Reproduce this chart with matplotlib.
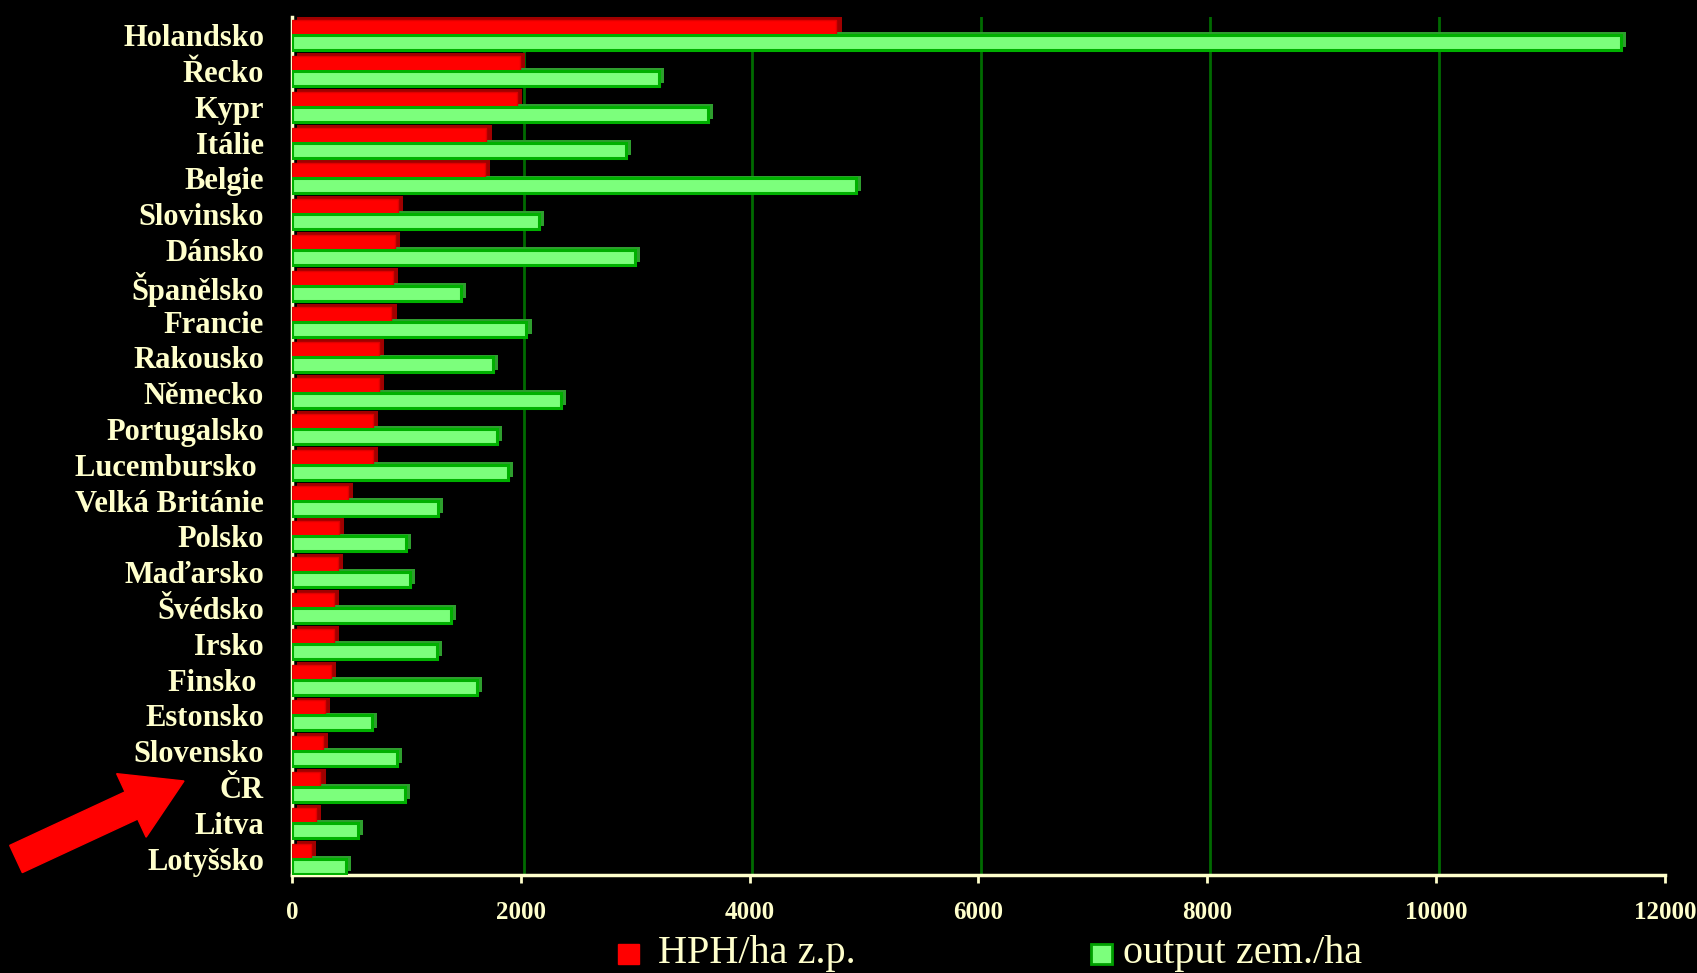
import matplotlib
matplotlib.use("Agg")
import matplotlib.pyplot as plt
import matplotlib.patches as mpatches
from matplotlib.transforms import IdentityTransform
import numpy as np

countries = ["Holandsko", "Řecko", "Kypr", "Itálie", "Belgie", "Slovinsko", "Dánsko",
             "Španělsko", "Francie", "Rakousko", "Německo", "Portugalsko", "Lucembursko ",
             "Velká Británie", "Polsko", "Maďarsko", "Švédsko", "Irsko", "Finsko ",
             "Estonsko", "Slovensko", "ČR", "Litva", "Lotyšsko"]
hph_ha = [4760, 1990, 1970, 1700, 1690, 930, 900, 880, 870, 760, 760, 710, 710,
          490, 410, 400, 370, 370, 340, 290, 270, 250, 210, 170]
output_ha = [11620, 3210, 3640, 2920, 4930, 2160, 3000, 1480, 2050, 1760, 2350, 1790, 1890,
             1280, 1000, 1030, 1390, 1270, 1620, 700, 920, 990, 580, 470]
xticks = [0, 2000, 4000, 6000, 8000, 10000, 12000]
series_names = ["HPH/ha z.p.", "output zem./ha"]

CREAM = "#FFFFCC"
SERIF = ["Liberation Serif", "DejaVu Serif"]

fig = plt.figure(figsize=(16.97, 9.73), dpi=100, facecolor="black")
ax = fig.add_axes([0.172, 0.101, 0.809, 0.882])
ax.set_facecolor("black")

y = np.arange(len(countries))
h = 0.42
dx = 45
dy = 0.08
# 3D depth shadows
ax.barh(y - h / 2 - dy, hph_ha, height=h, left=dx, color="#A00000", zorder=2)
ax.barh(y + h / 2 - dy, output_ha, height=h, left=dx, color="#2E9E2E", zorder=2)
# front faces
ax.barh(y - h / 2, hph_ha, height=h, color="#FF0000", edgecolor="#E00000", linewidth=1, zorder=3)
ax.barh(y + h / 2, output_ha, height=h, color="#7CFF7C", edgecolor="#00B000", linewidth=2.2, zorder=3)

ax.set_xlim(0, 12000)
ax.set_ylim(len(countries) - 0.55, -0.52)
ax.set_yticks(y)
ax.set_yticklabels(countries, family=SERIF, fontsize=22, fontweight="bold", color=CREAM)
ax.tick_params(axis="y", length=0, pad=20)
ax.set_xticks(xticks)
ax.set_xticklabels([str(v) for v in xticks], family=SERIF, fontsize=18,
                   fontweight="bold", color=CREAM)
ax.tick_params(axis="x", colors=CREAM, length=6, width=2, pad=13)

for v in xticks[1:]:
    ax.axvline(v + 25, color="#006A00", linewidth=2.0, zorder=1)

for s in ["top", "right"]:
    ax.spines[s].set_visible(False)
for s in ["left", "bottom"]:
    ax.spines[s].set_color(CREAM)
    ax.spines[s].set_linewidth(2.5)

# legend
fig.patches.append(mpatches.Rectangle((0.364, 0.009), 0.0125, 0.021, transform=fig.transFigure,
                                      facecolor="#FF0000", edgecolor="#FF0000", zorder=5))
fig.text(0.388, 0.020, series_names[0], family=SERIF, fontsize=29, color=CREAM, va="center")
fig.patches.append(mpatches.Rectangle((0.643, 0.009), 0.0125, 0.021, transform=fig.transFigure,
                                      facecolor="#7CFF7C", edgecolor="#00A000", linewidth=2, zorder=5))
fig.text(0.662, 0.020, series_names[1], family=SERIF, fontsize=29, color=CREAM, va="center")

# red arrow pointing to ČR
arrow = mpatches.FancyArrow(16, 114, 168, 78, width=30, head_width=70, head_length=58,
                            length_includes_head=True, color="#FF0000",
                            transform=IdentityTransform())
fig.patches.append(arrow)

fig.savefig("out.png", dpi=100, facecolor="black")
